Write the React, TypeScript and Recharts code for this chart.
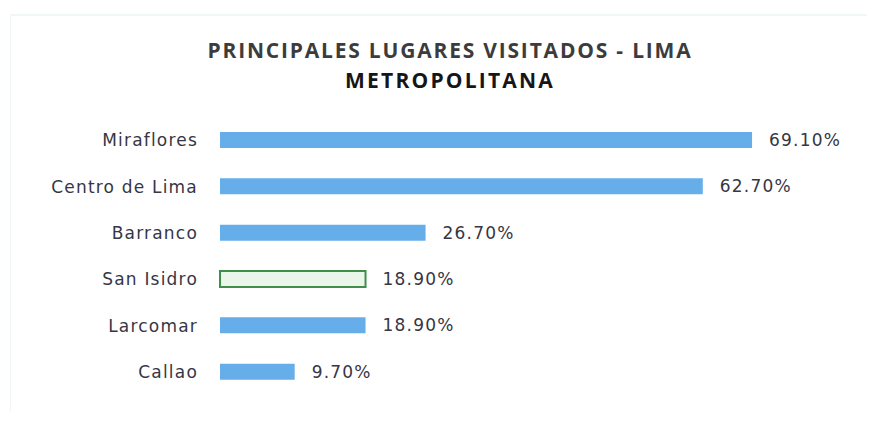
import { BarChart, Bar, XAxis, YAxis, LabelList, Cell } from 'recharts';

const places = ['Miraflores', 'Centro de Lima', 'Barranco', 'San Isidro', 'Larcomar', 'Callao'];
const shares = [69.1, 62.7, 26.7, 18.9, 18.9, 9.7];
const highlighted = 'San Isidro';

const data = places.map((place, i) => ({ place, share: shares[i] }));

const fmt = (v: number) => `${v.toFixed(2)}%`;

const textStyle = {
  fill: '#363644',
  fontSize: 17,
  letterSpacing: 1.2,
  fontFamily: '"DejaVu Sans", sans-serif',
};

export default function App() {
  return (
    <div
      style={{
        position: 'absolute',
        left: 0,
        top: 0,
        width: 878,
        height: 421,
        background: '#ffffff',
        fontFamily: '"DejaVu Sans", sans-serif',
      }}
    >
      {/* faint frame like the scanned original */}
      <div
        style={{
          position: 'absolute',
          left: 10,
          top: 14,
          width: 856,
          height: 396,
          borderTop: '2px solid #eef8f6',
          borderLeft: '1px solid #f2f8f8',
        }}
      />
      <div
        style={{
          position: 'absolute',
          left: 0,
          top: 35,
          width: 900,
          textAlign: 'center',
          fontFamily: '"Open Sans", sans-serif',
          fontWeight: 700,
          fontSize: 21,
          lineHeight: '30px',
          color: '#3c3c3c',
          letterSpacing: 1.8,
        }}
      >
        <div>PRINCIPALES LUGARES VISITADOS - LIMA</div>
        <div style={{ color: '#161616', letterSpacing: 2.2 }}>METROPOLITANA</div>
      </div>
      <div style={{ position: 'absolute', left: 0, top: 0 }}>
        <BarChart
          width={878}
          height={421}
          data={data}
          layout="vertical"
          margin={{ top: 117, right: 42, bottom: 26, left: 0 }}
        >
          <XAxis type="number" domain={[0, 80]} hide />
          <YAxis
            type="category"
            dataKey="place"
            width={220}
            axisLine={false}
            tickLine={false}
            tickSize={0}
            tickMargin={22}
            tick={textStyle}
          />
          <Bar dataKey="share" barSize={16} fill="#66aeea" isAnimationActive={false}>
            {data.map((d) => (
              <Cell
                key={d.place}
                fill={d.place === highlighted ? '#eaf6ea' : '#66aeea'}
                stroke={d.place === highlighted ? '#3f8f4a' : 'none'}
                strokeWidth={d.place === highlighted ? 2 : 0}
              />
            ))}
            <LabelList
              dataKey="share"
              position="right"
              offset={17}
              formatter={(v: number) => fmt(v)}
              style={textStyle}
            />
          </Bar>
        </BarChart>
      </div>
    </div>
  );
}
